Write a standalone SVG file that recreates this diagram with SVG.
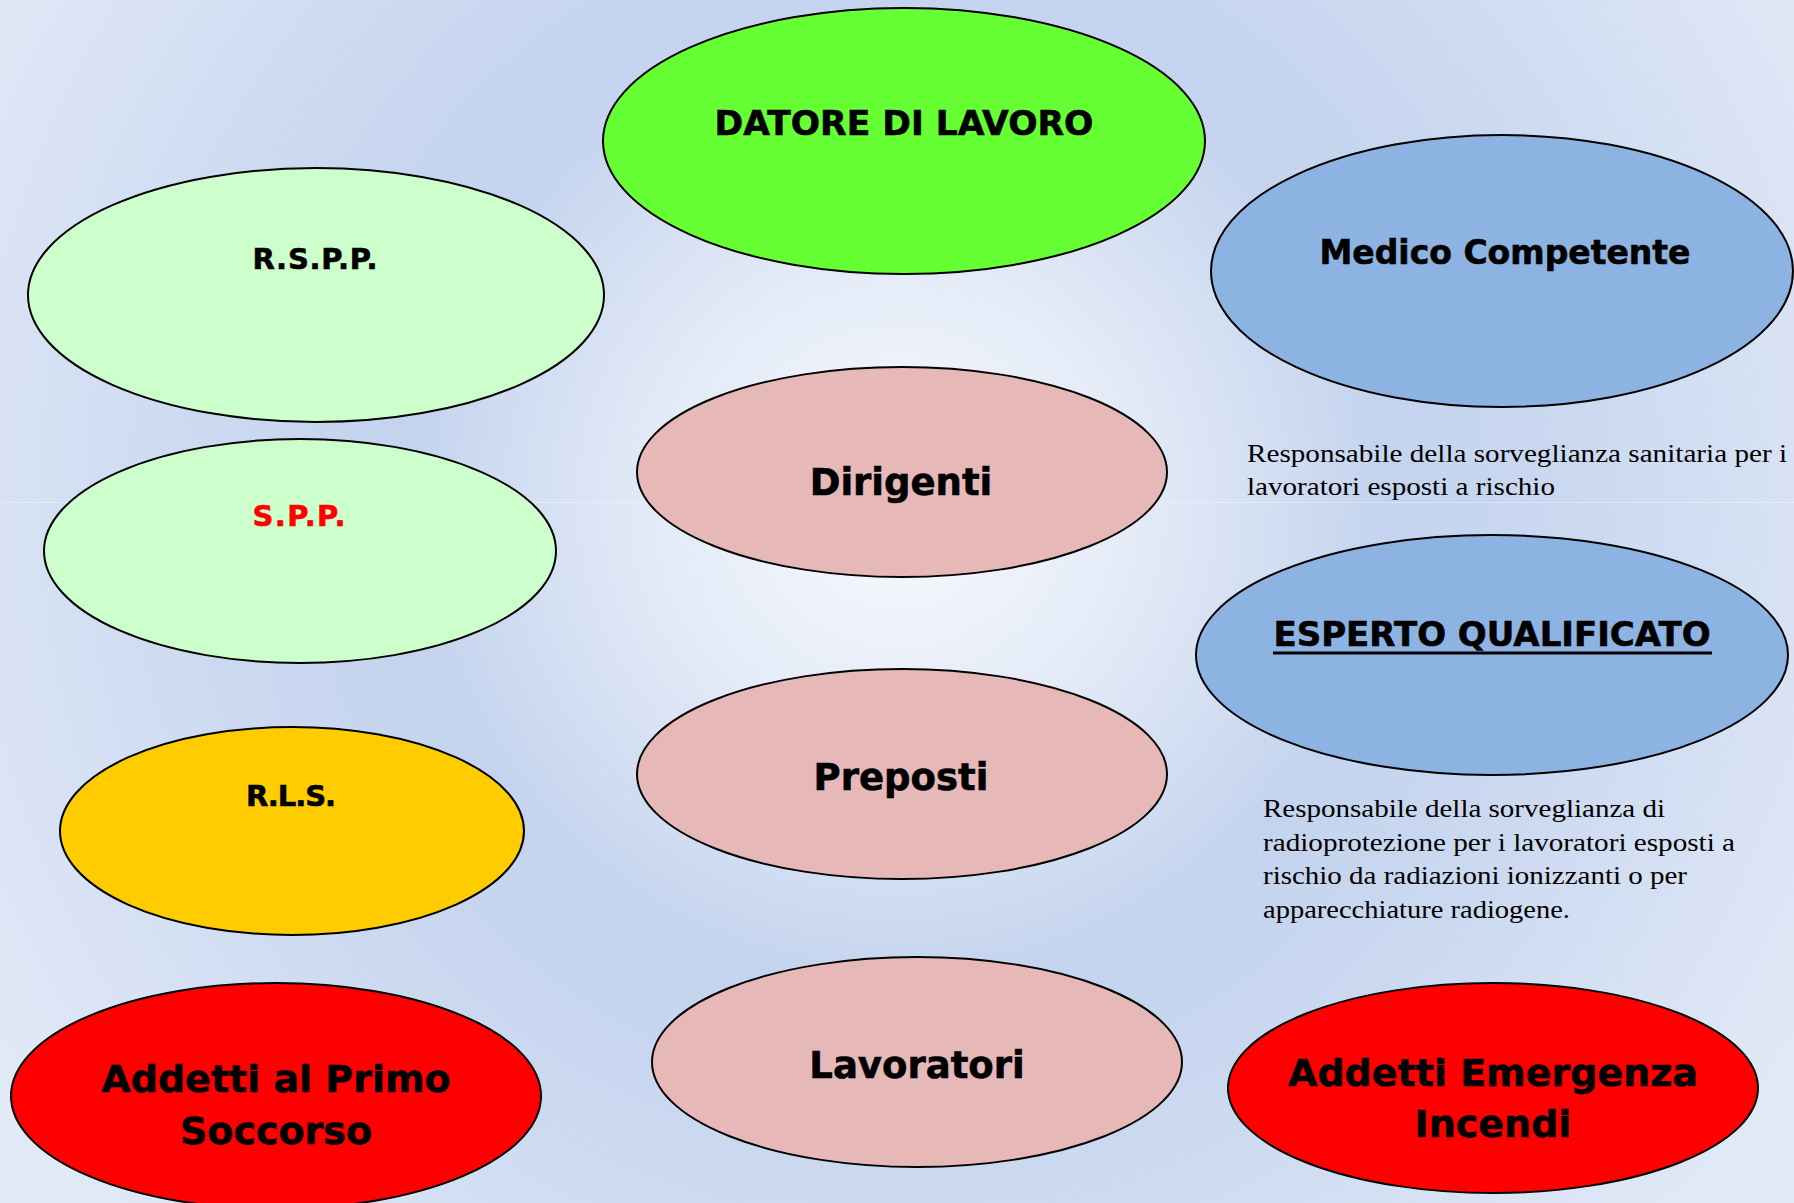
<svg xmlns="http://www.w3.org/2000/svg" width="1794" height="1203" viewBox="0 0 1794 1203">
<defs>
<radialGradient id="bg" gradientUnits="userSpaceOnUse" cx="897" cy="502" r="1080">
<stop offset="0" stop-color="#f8fafe"/>
<stop offset="0.22" stop-color="#e4ebf7"/>
<stop offset="0.45" stop-color="#c4d4ee"/>
<stop offset="0.62" stop-color="#cad8f0"/>
<stop offset="0.85" stop-color="#d9e3f4"/>
<stop offset="1" stop-color="#e2eaf7"/>
</radialGradient>
</defs>
<style>
.n{stroke:#000;stroke-width:2}
.b{font-family:"DejaVu Sans",Verdana,sans-serif;font-weight:bold;fill:#000;text-anchor:middle;stroke:#000;stroke-width:0.6}
.s{font-family:"Liberation Serif","Times New Roman",serif;font-size:25px;fill:#000}
</style>
<rect width="1794" height="1203" fill="url(#bg)"/>
<line x1="0" y1="502.5" x2="1794" y2="502.5" stroke="#ffffff" stroke-opacity="0.35" stroke-width="1"/>
<g id="connectors"></g>
<g id="datore"><ellipse class="n" cx="904" cy="141" rx="301" ry="133" fill="#66ff33"/><text class="b" x="904" y="135" font-size="34.5">DATORE DI LAVORO</text></g>
<g id="rspp"><ellipse class="n" cx="316" cy="295" rx="288" ry="127" fill="#ccffcc"/><text class="b" x="315" y="269" font-size="29" textLength="125" lengthAdjust="spacing">R.S.P.P.</text></g>
<g id="medico"><ellipse class="n" cx="1502" cy="271" rx="291" ry="136" fill="#8db3e2"/><text class="b" x="1505" y="264" font-size="33">Medico Competente</text></g>
<g id="medico-desc"><text class="s" x="1247" y="462" textLength="540" lengthAdjust="spacingAndGlyphs">Responsabile della sorveglianza sanitaria per i</text><text class="s" x="1247" y="495" textLength="308" lengthAdjust="spacingAndGlyphs">lavoratori esposti a rischio</text></g>
<g id="spp"><ellipse class="n" cx="300" cy="551" rx="256" ry="112" fill="#ccffcc"/><text class="b" x="299" y="526" font-size="29" textLength="93" lengthAdjust="spacing" style="fill:#ff0000;stroke:#ff0000">S.P.P.</text></g>
<g id="dirigenti"><ellipse class="n" cx="902" cy="472" rx="265" ry="105" fill="#e6b8b7"/><text class="b" x="901" y="495" font-size="37">Dirigenti</text></g>
<g id="esperto"><ellipse class="n" cx="1492" cy="655" rx="296" ry="120" fill="#8db3e2"/><text class="b" x="1492" y="646" font-size="34">ESPERTO QUALIFICATO</text><line x1="1273" y1="653" x2="1712" y2="653" stroke="#000" stroke-width="3"/></g>
<g id="esperto-desc"><text class="s" x="1263" y="817" textLength="402" lengthAdjust="spacingAndGlyphs">Responsabile della sorveglianza di</text><text class="s" x="1263" y="851" textLength="472" lengthAdjust="spacingAndGlyphs">radioprotezione per i lavoratori esposti a</text><text class="s" x="1263" y="884" textLength="424" lengthAdjust="spacingAndGlyphs">rischio da radiazioni ionizzanti o per</text><text class="s" x="1263" y="918" textLength="307" lengthAdjust="spacingAndGlyphs">apparecchiature radiogene.</text></g>
<g id="rls"><ellipse class="n" cx="292" cy="831" rx="232" ry="104" fill="#ffcc00"/><text class="b" x="291" y="806" font-size="29" textLength="90" lengthAdjust="spacing">R.L.S.</text></g>
<g id="preposti"><ellipse class="n" cx="902" cy="774" rx="265" ry="105" fill="#e6b8b7"/><text class="b" x="901" y="790" font-size="37">Preposti</text></g>
<g id="primo-soccorso"><ellipse class="n" cx="276" cy="1096" rx="265" ry="113" fill="#ff0000"/><text class="b" x="276" y="1092" font-size="38">Addetti al Primo</text><text class="b" x="276" y="1144" font-size="38">Soccorso</text></g>
<g id="lavoratori"><ellipse class="n" cx="917" cy="1062" rx="265" ry="105" fill="#e6b8b7"/><text class="b" x="917" y="1078" font-size="37">Lavoratori</text></g>
<g id="incendi"><ellipse class="n" cx="1493" cy="1088" rx="265" ry="105" fill="#ff0000"/><text class="b" x="1493" y="1086" font-size="38">Addetti Emergenza</text><text class="b" x="1493" y="1137" font-size="38">Incendi</text></g>
</svg>
